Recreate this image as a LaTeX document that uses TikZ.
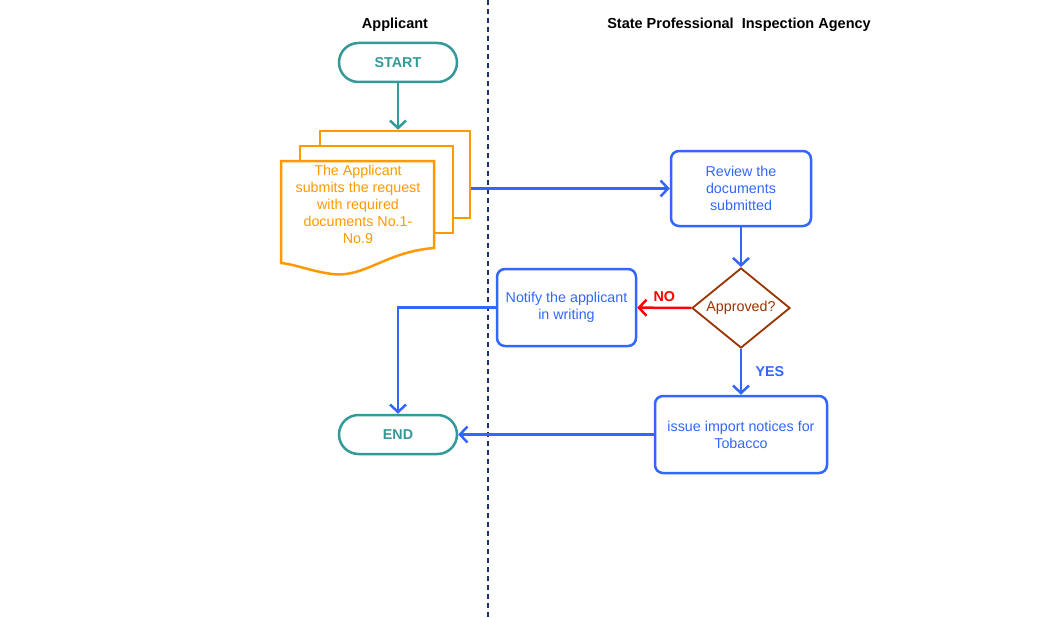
\documentclass[tikz,border=0pt]{standalone}
\usepackage{fontspec}
\setmainfont{Liberation Sans}
\usetikzlibrary{arrows.meta,shapes.geometric}
\definecolor{tealc}{HTML}{339999}
\definecolor{docorange}{HTML}{FF9900}
\definecolor{flowblue}{HTML}{3366FF}
\definecolor{decbrown}{HTML}{993300}
\definecolor{lanenavy}{HTML}{1F3068}
\tikzset{
  lbl/.style={font=\fontsize{14.3}{17}\selectfont, align=center},
  terminal/.style={draw=tealc, line width=2.5pt, rounded corners=19.5pt, minimum width=118pt,
    minimum height=39pt, text=tealc, font=\fontsize{14.3}{17}\selectfont\bfseries},
  stepbox/.style={draw=flowblue, line width=2.5pt, rounded corners=8pt, text=flowblue, lbl},
  docsheet/.style={draw=docorange, line width=2.5pt, fill=white},
  flow/.style={draw=flowblue, line width=2.5pt, -{Straight Barb[length=7.5pt,width=16pt,line width=2.5pt]}},
  hdr/.style={font=\fontsize{14.5}{17}\selectfont\bfseries},
  tag/.style={font=\fontsize{14.3}{17}\selectfont\bfseries}
}
\begin{document}
\begin{tikzpicture}[x=1pt,y=-1pt]
  \useasboundingbox (0,0) rectangle (1050,618);
  % swimlanes
  \node[hdr] (applicant) at (395,24.5) {Applicant};
  \node[hdr] (agency) at (739,24.5) {State Professional\ \ Inspection Agency};
  \draw[lanenavy, line width=2pt, dash pattern=on 5pt off 4pt] (488,0) -- (488,618);

  % applicant side
  \node[terminal] (start) at (398,62.5) {START};
  \node[docsheet, minimum width=150pt, minimum height=87pt] (docback) at (395,174.5) {};
  \node[docsheet, minimum width=153pt, minimum height=87pt] (docmid) at (376.5,189.5) {};
  \filldraw[docsheet] (281,161) -- (434,161) -- (434,248)
    .. controls (385,252) and (365,278) .. (332,274)
    .. controls (310,271) and (298,265) .. (281,263) -- cycle;
  \node[lbl, text=docorange] (docs) at (358,204)
    {The Applicant\\submits the request\\with required\\documents No.1-\\No.9};
  \node[terminal] (end) at (398,434.5) {END};

  % agency side
  \node[stepbox, minimum width=140pt, minimum height=75pt] (review) at (741,188.5)
    {Review the\\documents\\submitted};
  \node[draw=decbrown, line width=1.8pt, shape=diamond, aspect=1.22, inner sep=0pt,
    minimum width=98pt, minimum height=80pt, text=decbrown, lbl] (approved) at (741,308) {Approved?};
  \node[stepbox, minimum width=139pt, minimum height=77pt] (notify) at (566.5,307.5)
    {Notify the applicant\\in writing};
  \node[stepbox, minimum width=172pt, minimum height=77pt] (issue) at (741,434.5)
    {issue import notices for\\Tobacco};
  \coordinate (bend) at (end.north |- notify.west);

  % connectors
  \draw[flow, draw=tealc] (start) -- (start |- docback.north);
  \draw[flow] (docback.east |- review.west) -- (review.west);
  \draw[flow] (review) -- (approved);
  \draw[flow, draw=red] (approved) -- node[above=2pt, text=red, tag] {NO} (notify);
  \draw[flow] (approved) -- node[right=10pt, text=flowblue, tag] {YES} (issue);
  \draw[flow] (notify.west) -- (bend) -- (end.north);
  \draw[flow] (issue) -- (end);
\end{tikzpicture}
\end{document}
